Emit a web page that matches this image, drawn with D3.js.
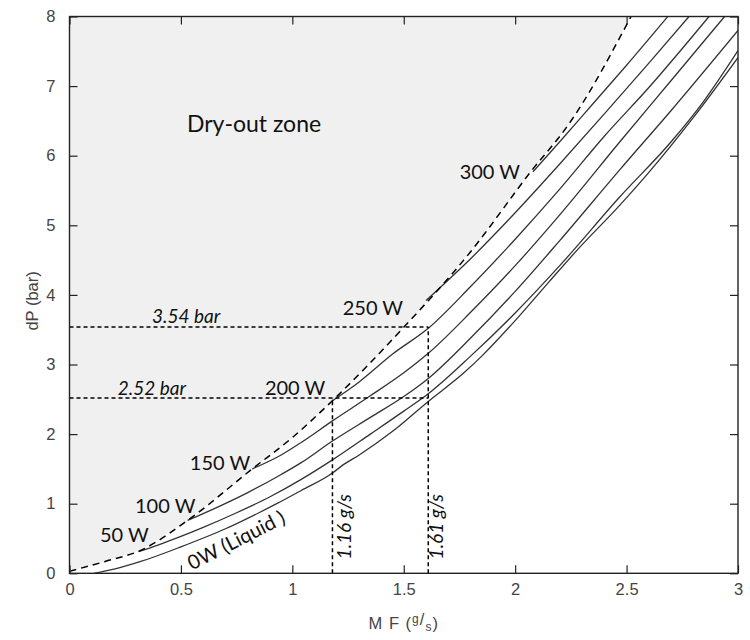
<!DOCTYPE html>
<html>
<head>
<meta charset="utf-8">
<script src="https://cdn.jsdelivr.net/npm/d3@7"></script>
<style>
  body { margin: 0; background: #fff; }
  .tick text { font-family: "Liberation Sans", Arial, sans-serif; font-size: 16.5px; fill: #444; }
  .note { font-family: Lato, "Open Sans", sans-serif; fill: #111; }
</style>
</head>
<body>
<div id="chart"></div>
<script>
// dry-out boundary (dashed)
const dryOut = [[0, 0.03], [0.16, 0.17], [0.32, 0.33], [0.53, 0.76], [0.82, 1.5], [1.0, 1.95],
  [1.18, 2.48], [1.49, 3.5], [1.8, 4.62], [2.07, 5.77], [2.24, 6.45], [2.52, 8.0]];

// pressure drop curves per heat load
const curve0W = [[0.11, 0.0], [0.2, 0.06], [0.32, 0.17], [0.5, 0.38], [0.7, 0.64], [0.85, 0.87],
  [0.93, 1.0], [1.04, 1.19], [1.18, 1.44], [1.22, 1.54], [1.3, 1.7], [1.45, 2.04],
  [1.61, 2.47], [1.77, 2.88], [1.85, 3.12], [2.0, 3.63], [2.15, 4.18], [2.28, 4.65],
  [2.47, 5.29], [2.6, 5.76], [2.8, 6.55], [3.0, 7.41]];
const curve50W = [[0.31, 0.31], [0.4, 0.41], [0.5, 0.53], [0.6, 0.66], [0.75, 0.87], [0.9, 1.1],
  [1.04, 1.35], [1.18, 1.63], [1.35, 2.0], [1.5, 2.33], [1.61, 2.58], [1.8, 3.12], [2.0, 3.74],
  [2.2, 4.42], [2.47, 5.41], [2.7, 6.2], [2.85, 6.8], [3.0, 7.51]];
const curve100W = [[0.53, 0.76], [0.65, 0.93], [0.8, 1.16], [0.95, 1.42], [1.04, 1.59],
  [1.18, 1.9], [1.35, 2.24], [1.5, 2.54], [1.61, 2.8], [1.8, 3.38], [2.0, 4.05], [2.2, 4.78],
  [2.47, 5.8], [2.7, 6.65], [3.0, 7.8]];
const curve150W = [[0.82, 1.5], [0.95, 1.7], [1.04, 1.88], [1.18, 2.19], [1.35, 2.55], [1.5, 2.88],
  [1.61, 3.16], [1.8, 3.75], [2.0, 4.42], [2.2, 5.15], [2.47, 6.2], [2.7, 7.08], [2.94, 8.0]];
const curve200W = [[1.18, 2.48], [1.3, 2.75], [1.45, 3.15], [1.61, 3.52], [1.8, 4.12], [2.0, 4.8],
  [2.2, 5.52], [2.4, 6.28], [2.6, 6.98], [2.87, 8.0]];
const curve250W = [[1.6, 3.92], [1.8, 4.52], [2.0, 5.18], [2.2, 5.88], [2.4, 6.6], [2.6, 7.33],
  [2.78, 8.0]];
const curve300W = [[2.08, 5.77], [2.2, 6.2], [2.35, 6.75], [2.5, 7.3], [2.685, 8.0]];

const curves = [curve0W, curve50W, curve100W, curve150W, curve200W, curve250W, curve300W];

const xTicks = [0, 0.5, 1, 1.5, 2, 2.5, 3];
const yTicks = [0, 1, 2, 3, 4, 5, 6, 7, 8];

// guide lines: [dP level, MF end] and [MF, dP top]
const guideH = [[3.54, 1.61], [2.52, 1.61]];
const guideV = [[1.18, 2.52], [1.61, 3.54]];

const width = 750;
const height = 640;
const plot = { left: 69.5, right: 738, top: 16.5, bottom: 573.3 };

const svg = d3.select('#chart')
  .append('svg')
  .attr('width', width)
  .attr('height', height);

const x = d3.scaleLinear().domain([0, 3]).range([plot.left, plot.right]);
const y = d3.scaleLinear().domain([0, 8]).range([plot.bottom, plot.top]);

svg.append('clipPath').attr('id', 'clip')
  .append('rect')
  .attr('x', plot.left).attr('y', plot.top)
  .attr('width', plot.right - plot.left).attr('height', plot.bottom - plot.top);

const g = svg.append('g').attr('clip-path', 'url(#clip)');

// dry-out zone shading
const zone = dryOut.concat([[0, 8]]);
g.append('path')
  .attr('d', d3.line().x(d => x(d[0])).y(d => y(d[1]))(zone) + 'Z')
  .attr('fill', '#f0f0f0');

const line = d3.line()
  .x(d => x(d[0]))
  .y(d => y(d[1]))
  .curve(d3.curveMonotoneX);

g.selectAll('.curve')
  .data(curves)
  .enter()
  .append('path')
  .attr('class', 'curve')
  .attr('d', line)
  .attr('fill', 'none')
  .attr('stroke', '#333')
  .attr('stroke-width', 1.3);

g.append('path')
  .attr('d', line(dryOut))
  .attr('fill', 'none')
  .attr('stroke', '#000')
  .attr('stroke-width', 1.5)
  .attr('stroke-dasharray', '7,5');

// guides
g.selectAll('.gh')
  .data(guideH)
  .enter()
  .append('line')
  .attr('x1', x(0)).attr('x2', d => x(d[1]))
  .attr('y1', d => y(d[0])).attr('y2', d => y(d[0]))
  .attr('stroke', '#000').attr('stroke-width', 1.5).attr('stroke-dasharray', '4,3');

g.selectAll('.gv')
  .data(guideV)
  .enter()
  .append('line')
  .attr('x1', d => x(d[0])).attr('x2', d => x(d[0]))
  .attr('y1', y(0)).attr('y2', d => y(d[1]))
  .attr('stroke', '#000').attr('stroke-width', 1.5).attr('stroke-dasharray', '4,3');

// axes (MATLAB style, ticks inward on all sides)
const axB = svg.append('g').attr('transform', `translate(0,${plot.bottom})`)
  .call(d3.axisBottom(x).tickValues(xTicks).tickFormat(d => d).tickSizeInner(-8).tickSizeOuter(0).tickPadding(10));
const axL = svg.append('g').attr('transform', `translate(${plot.left},0)`)
  .call(d3.axisLeft(y).tickValues(yTicks).tickSizeInner(-8).tickSizeOuter(0).tickPadding(14));
const axT = svg.append('g').attr('transform', `translate(0,${plot.top})`)
  .call(d3.axisTop(x).tickValues(xTicks).tickFormat('').tickSizeInner(-8).tickSizeOuter(0));
const axR = svg.append('g').attr('transform', `translate(${plot.right},0)`)
  .call(d3.axisRight(y).tickValues(yTicks).tickFormat('').tickSizeInner(-8).tickSizeOuter(0));

[axB, axL, axT, axR].forEach(a => {
  a.select('.domain').remove();
  a.selectAll('.tick line').attr('stroke', '#222').attr('stroke-width', 1.2);
});

svg.append('rect')
  .attr('x', plot.left).attr('y', plot.top)
  .attr('width', plot.right - plot.left).attr('height', plot.bottom - plot.top)
  .attr('fill', 'none').attr('stroke', '#222').attr('stroke-width', 1.4);

// axis titles
svg.append('text')
  .attr('transform', `translate(38,${(plot.top + plot.bottom) / 2 + 6}) rotate(-90)`)
  .attr('text-anchor', 'middle')
  .style('font-family', '"Liberation Sans", Arial, sans-serif')
  .style('font-size', '16.5px')
  .style('fill', '#444')
  .text('dP (bar)');

const xt = svg.append('text')
  .attr('x', (plot.left + plot.right) / 2)
  .attr('y', 629)
  .attr('text-anchor', 'middle')
  .style('font-family', '"Liberation Sans", Arial, sans-serif')
  .style('font-size', '16.5px')
  .style('letter-spacing', '1px')
  .style('fill', '#444');
xt.append('tspan').text('M F (');
xt.append('tspan').attr('dy', -6).style('font-size', '12px').text('g');
xt.append('tspan').attr('dy', 2).text('/');
xt.append('tspan').attr('dy', 6).style('font-size', '12px').text('s');
xt.append('tspan').attr('dy', -2).text(')');

// annotations
const notes = [
  { text: 'Dry-out zone', x: 0.527, y: 6.34, size: 23 },
  { text: '300 W', x: 1.751, y: 5.665, size: 20 },
  { text: '250 W', x: 1.226, y: 3.71, size: 20 },
  { text: '200 W', x: 0.877, y: 2.56, size: 20 },
  { text: '150 W', x: 0.54, y: 1.484, size: 20 },
  { text: '100 W', x: 0.294, y: 0.866, size: 20 },
  { text: '50 W', x: 0.137, y: 0.45, size: 20 }
];

svg.selectAll('.note-w')
  .data(notes)
  .enter()
  .append('text')
  .attr('class', 'note')
  .attr('x', d => x(d.x))
  .attr('y', d => y(d.y))
  .style('font-size', d => `${d.size}px`)
  .text(d => d.text);

const italicNotes = [
  { text: '3.54 bar', x: 0.37, y: 3.595, rot: 0 },
  { text: '2.52 bar', x: 0.217, y: 2.56, rot: 0 },
  { text: '1.16 g/s', x: 1.265, y: 0.2, rot: -90 },
  { text: '1.61 g/s', x: 1.675, y: 0.2, rot: -90 }
];

svg.selectAll('.note-i')
  .data(italicNotes)
  .enter()
  .append('text')
  .attr('class', 'note')
  .attr('transform', d => `translate(${x(d.x)},${y(d.y)}) rotate(${d.rot})`)
  .style('font-size', '19px')
  .style('font-style', 'italic')
  .text(d => d.text);

svg.append('text')
  .attr('class', 'note')
  .attr('transform', `translate(${x(0.55)},${y(0.04)}) rotate(-27)`)
  .style('font-size', '20px')
  .text('0W (Liquid )');
</script>
</body>
</html>
